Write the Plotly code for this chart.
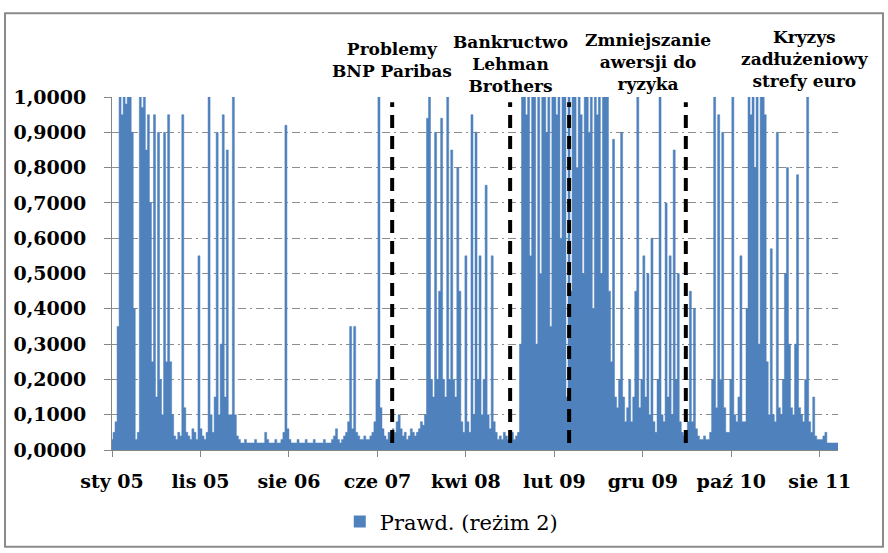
import numpy as np
import plotly.graph_objects as go

# Smoothed probability of regime 2, sampled roughly weekly (observation index step below)
prob = [
    0.03, 0.05, 0.08, 0.35, 1.0, 0.95, 1.0, 0.98, 1.0, 1.0,
    0.9, 0.4, 0.03, 0.05, 1.0, 0.97, 1.0, 0.85, 0.95, 0.7,
    0.25, 0.95, 0.15, 0.9, 0.2, 0.1, 0.9, 0.25, 0.95, 0.25,
    0.1, 0.04, 0.03, 0.05, 0.04, 0.95, 0.12, 0.05, 0.04, 0.03,
    0.06, 0.05, 0.03, 0.55, 0.06, 0.04, 0.03, 0.05, 1.0, 0.1,
    0.05, 0.15, 0.9, 0.1, 0.3, 0.95, 0.15, 0.85, 0.1, 0.1,
    1.0, 0.1, 0.04, 0.03, 0.02, 0.02, 0.03, 0.02, 0.02, 0.02,
    0.02, 0.03, 0.02, 0.02, 0.02, 0.02, 0.05, 0.03, 0.02, 0.02,
    0.02, 0.03, 0.02, 0.02, 0.03, 0.05, 0.92, 0.06, 0.03, 0.02,
    0.02, 0.02, 0.03, 0.02, 0.02, 0.02, 0.03, 0.02, 0.02, 0.02,
    0.03, 0.02, 0.02, 0.02, 0.02, 0.03, 0.02, 0.02, 0.02, 0.03,
    0.04, 0.06, 0.03, 0.02, 0.03, 0.04, 0.05, 0.08, 0.35, 0.06,
    0.35, 0.05, 0.04, 0.03, 0.03, 0.04, 0.03, 0.03, 0.04, 0.05,
    0.08, 0.2, 1.0, 0.12, 0.06, 0.04, 0.03, 0.05, 0.04, 0.06,
    0.05, 0.08, 0.1, 0.06, 0.04, 0.05, 0.03, 0.04, 0.06, 0.05,
    0.04, 0.05, 0.06, 0.08, 0.07, 0.1, 0.94, 1.0, 0.2, 0.15,
    0.9, 0.2, 0.45, 0.94, 0.2, 0.15, 1.0, 0.2, 0.85, 0.2,
    0.15, 0.8, 0.45, 0.08, 0.05, 0.55, 0.08, 0.05, 0.95, 0.1,
    0.9, 0.2, 0.55, 0.1, 0.2, 0.75, 0.1, 0.06, 0.55, 0.08,
    0.05, 0.03, 0.04, 0.03, 0.05, 0.04, 0.03, 0.04, 0.05, 0.03,
    0.04, 0.05, 0.3, 1.0, 1.0, 0.95, 1.0, 0.55, 1.0, 1.0,
    0.3, 1.0, 0.5, 1.0, 1.0, 0.9, 1.0, 0.35, 1.0, 1.0,
    0.95, 1.0, 0.6, 1.0, 1.0, 0.15, 1.0, 0.45, 1.0, 1.0,
    0.8, 1.0, 0.95, 0.5, 1.0, 1.0, 0.9, 1.0, 0.4, 1.0,
    0.95, 1.0, 0.5, 1.0, 1.0, 1.0, 0.45, 0.25, 0.88, 0.15,
    0.12, 0.2, 0.9, 0.15, 0.08, 0.12, 0.2, 0.08, 0.15, 0.45,
    1.0, 0.12, 0.2, 0.55, 0.15, 0.5, 0.1, 0.6, 0.08, 0.05,
    0.2, 1.0, 0.1, 0.08, 0.7, 0.15, 0.55, 0.1, 0.85, 0.2,
    0.5, 0.08, 0.05, 0.04, 0.05, 0.08, 0.45, 0.08, 0.4, 0.06,
    0.04, 0.03, 0.03, 0.04, 0.03, 0.03, 0.05, 0.2, 1.0, 0.12,
    0.95, 0.2, 0.9, 0.12, 0.05, 0.05, 0.2, 1.0, 0.1, 0.08,
    0.15, 0.55, 0.08, 0.08, 0.4, 1.0, 0.95, 1.0, 0.8, 1.0,
    0.3, 1.0, 1.0, 0.95, 0.25, 0.1, 0.57, 0.1, 0.08, 0.9,
    0.12, 0.1, 0.2, 0.5, 0.8, 0.3, 0.12, 0.1, 0.3, 0.78,
    0.12, 0.1, 0.08, 0.2, 1.0, 0.08, 0.05, 0.15, 0.04, 0.03,
    0.03, 0.03, 0.04, 0.05, 0.02, 0.02, 0.02, 0.02, 0.02, 0.02,
]

# observation index (trading days) of each sample
obs_step = 4.8
obs = np.arange(len(prob)) * obs_step

# category labels, one every 210 trading days
tick_obs = [0, 210, 420, 630, 840, 1050, 1260, 1470, 1680]
tick_labels = ["sty 05", "lis 05", "sie 06", "cze 07", "kwi 08",
               "lut 09", "gru 09", "paź 10", "sie 11"]

# event markers (dashed lines) and event captions
event_obs = [665, 945, 1085, 1362]
caption_obs = [665, 945, 1272, 1645]
caption_text = ["Problemy<br>BNP Paribas",
                "Bankructwo<br>Lehman<br>Brothers",
                "Zmniejszanie<br>awersji do<br>ryzyka",
                "Kryzys<br>zadłużeniowy<br>strefy euro"]
caption_top = [1.17, 1.19, 1.195, 1.205]

BLUE = "#4F81BD"
GRID = "#8C8C8C"
AXIS = "#868686"
SERIF = "DejaVu Serif"

W, H = 888, 553
L, R, T, B = 112, 50, 97, 102
pw, ph = W - L - R, H - T - B

fig = go.Figure()
fig.add_trace(go.Scatter(
    x=obs, y=prob, mode="lines", fill="tozeroy", line_shape="hvh",
    line=dict(color=BLUE, width=0.5), fillcolor=BLUE,
    name="Prawd. (reżim 2)", showlegend=False,
))
# legend entry drawn as a square swatch
fig.add_trace(go.Scatter(
    x=[None], y=[None], mode="markers", name="Prawd. (reżim 2)",
    marker=dict(symbol="square", size=12, color=BLUE), showlegend=True,
))

shapes = []
for e in event_obs:
    shapes.append(dict(type="line", xref="x", yref="y", x0=e, x1=e, y0=0.02, y1=0.985,
                       line=dict(color="black", width=4, dash="13px,8px"), layer="above"))


def px_to_paper_x(px):
    return (px - L) / pw


def px_to_paper_y(py):
    return (H - B - py) / ph


# outer chart-area frame
shapes.append(dict(type="rect", xref="paper", yref="paper",
                   x0=px_to_paper_x(5), x1=px_to_paper_x(883),
                   y0=px_to_paper_y(548), y1=px_to_paper_y(13),
                   line=dict(color="#8A8A8A", width=2), layer="below"))

annotations = []
for xo, txt, yt in zip(caption_obs, caption_text, caption_top):
    annotations.append(dict(x=xo, y=yt, xref="x", yref="paper", text=txt,
                            showarrow=False, xanchor="center", yanchor="top",
                            font=dict(family=SERIF, size=17, color="black", weight="bold"),
                            align="center"))

fig.update_layout(
    width=W, height=H,
    margin=dict(l=L, r=R, t=T, b=B),
    paper_bgcolor="white", plot_bgcolor="white",
    separators=", ",
    shapes=shapes,
    annotations=annotations,
    showlegend=True,
    legend=dict(orientation="h", x=0.468, xanchor="center", y=-0.2, yanchor="middle",
                font=dict(family=SERIF, size=21, color="black"),
                itemwidth=30),
    xaxis=dict(
        range=[0, obs[-1]], tickmode="array", tickvals=tick_obs, ticktext=tick_labels,
        showgrid=False, zeroline=False, showline=True, linecolor=AXIS, linewidth=1,
        ticks="outside", ticklen=6, tickcolor=AXIS,
        tickfont=dict(family=SERIF, size=19, color="black", weight="bold"),
        ticklabelstandoff=8,
    ),
    yaxis=dict(
        range=[0, 1], tickmode="array", tickvals=[i / 10 for i in range(11)],
        tickformat=".4f", showgrid=True, gridcolor=GRID, griddash="8px,4px,2px,4px",
        gridwidth=1, zeroline=False, showline=True, linecolor=AXIS, linewidth=1,
        ticks="outside", ticklen=7, tickcolor=AXIS,
        tickfont=dict(family=SERIF, size=19, color="black", weight="bold"),
        ticklabelstandoff=14,
    ),
)

fig.write_html("out.html")
